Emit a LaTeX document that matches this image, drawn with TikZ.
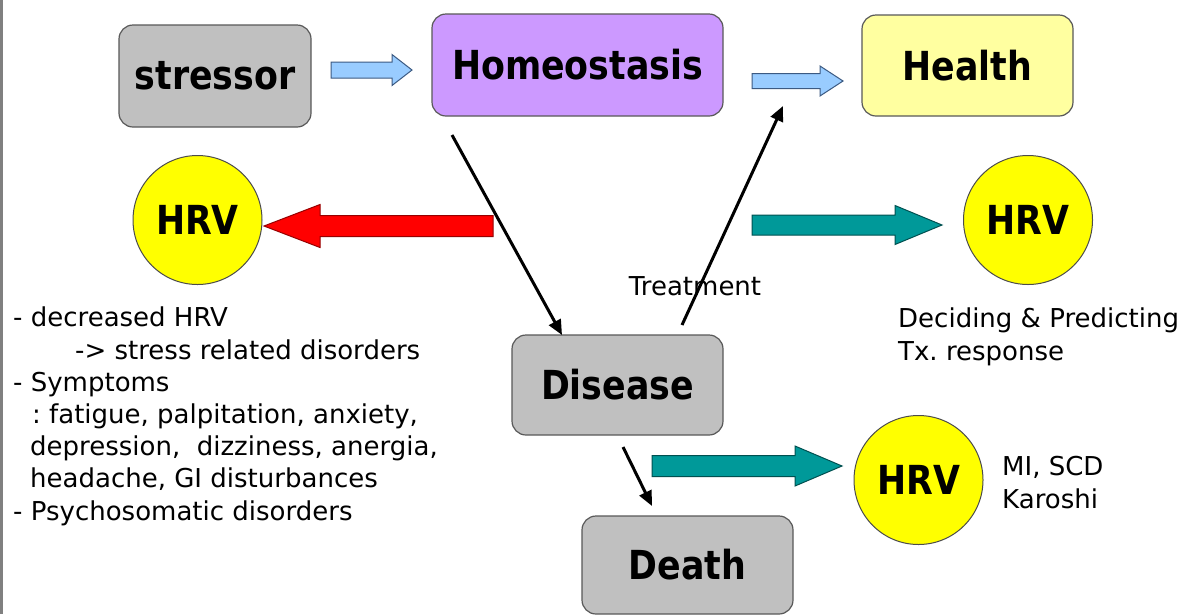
\documentclass[tikz,border=0pt]{standalone}
\usepackage{fontspec}
\setmainfont{DejaVu Sans}
\newfontfamily\bfont[FakeStretch=0.87]{DejaVu Sans}
\usetikzlibrary{arrows.meta}
\definecolor{boxgray}{RGB}{192,192,192}
\definecolor{lav}{RGB}{204,153,255}
\definecolor{lyel}{RGB}{255,255,160}
\definecolor{hyel}{RGB}{255,255,0}
\definecolor{lblue}{RGB}{153,204,255}
\definecolor{lbluedk}{RGB}{60,90,130}
\definecolor{teal2}{RGB}{0,153,153}
\definecolor{tealdk}{RGB}{0,80,80}
\definecolor{reddk}{RGB}{150,0,0}
\newcommand{\blkarrow}[7]{%
  \draw[#1] (#2,#5-#6) -- (#3,#5-#6) -- (#3,#5-#7) -- (#4,#5) -- (#3,#5+#7) -- (#3,#5+#6) -- (#2,#5+#6) -- cycle;}
\frenchspacing
\begin{document}
\begin{tikzpicture}[x=1pt,y=-1pt,
  box/.style={rounded corners=14pt, draw=black!65, line width=1.2pt, inner sep=0pt,
    font=\bfont\bfseries\fontsize{40}{48}\selectfont},
  hrv/.style={circle, fill=hyel, draw=black!70, line width=1pt, inner sep=0pt,
    minimum size=129pt, font=\bfont\bfseries\fontsize{40}{48}\selectfont},
  txt/.style={inner sep=0pt, font=\fontsize{26}{33}\selectfont},
  conn/.style={line width=3pt, -{Triangle[length=15pt,width=13pt]}},
  lbarrow/.style={fill=lblue, draw=lbluedk, line width=1pt},
  redarrow/.style={fill=red, draw=reddk, line width=1pt},
  tealarrow/.style={fill=teal2, draw=tealdk, line width=1pt}]
\useasboundingbox (0,0) rectangle (1201,614);
\fill[white] (0,0) rectangle (1201,614);
\fill[black!50] (0,0) rectangle (3,614);

% boxes
\node[box, fill=boxgray, minimum width=192pt, minimum height=102pt] (stressor) at (215,76) {stressor};
\node[box, fill=lav, minimum width=291pt, minimum height=102pt] (homeo) at (577.5,65) {Homeostasis};
\node[box, fill=lyel, minimum width=211pt, minimum height=101pt] (health) at (967.5,65.5) {Health};
\node[box, fill=boxgray, minimum width=211pt, minimum height=100pt] (disease) at (617.5,385) {Disease};
\node[box, fill=boxgray, minimum width=211pt, minimum height=98pt] (death) at (687.5,565) {Death};

% HRV circles
\node[hrv] (hrvL) at (197.5,220) {HRV};
\node[hrv] (hrvR) at (1028,220) {HRV};
\node[hrv] (hrvB) at (918.5,480) {HRV};

% block arrows
\blkarrow{lbarrow}{331}{392}{412}{70}{8}{15.5}
\blkarrow{lbarrow}{752}{820}{843}{81}{7.5}{15}
\blkarrow{redarrow}{493}{320}{264}{226}{10.5}{21.5}
\blkarrow{tealarrow}{752}{895}{942}{225}{10}{19.5}
\blkarrow{tealarrow}{652}{795}{842}{466}{10.5}{20}

% black connectors
\coordinate (c1) at (452,135);
\coordinate (c1e) at (562,335);
\coordinate (c2) at (682,325);
\coordinate (c2e) at (783,106);
\coordinate (c3) at (623,447);
\coordinate (c3e) at (652,506);
\draw[conn] (c1) -- (c1e);
\draw[conn] (c2) -- (c2e);
\draw[conn] (c3) -- (c3e);

% labels
\node[txt, anchor=base] (treat) at (695,295) {Treatment};
\node[txt, anchor=base west, align=left] (decide) at (898,360) {Deciding \& Predicting\\Tx. response};
\node[txt, anchor=base west, align=left] (mi) at (1002,508) {MI, SCD\\Karoshi};
\node[txt, anchor=base west, align=left, font=\fontsize{26}{32.2}\selectfont] (left) at (13,520)
 {- decreased HRV\\
  \hspace*{62pt}-> stress related disorders\\
  - Symptoms\\
  \hspace*{19pt}: fatigue, palpitation, anxiety,\\
  \hspace*{17pt}depression,\ \ dizziness, anergia,\\
  \hspace*{17pt}headache, GI disturbances\\
  - Psychosomatic disorders};
\end{tikzpicture}
\end{document}
